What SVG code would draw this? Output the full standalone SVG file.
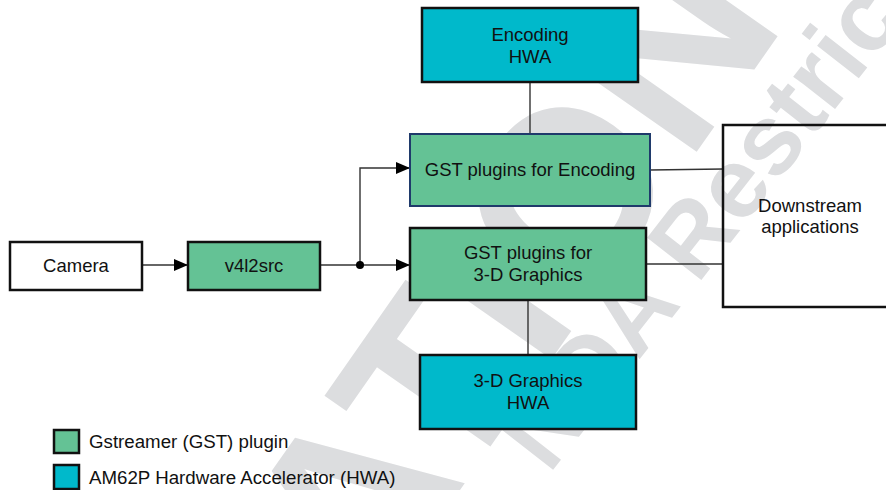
<svg xmlns="http://www.w3.org/2000/svg" width="886" height="490" viewBox="0 0 886 490">
  <style>
    .box { stroke: #111; stroke-width: 2.5; }
    .gst { fill: #64C295; }
    .hwa { fill: #00B9CB; }
    .plain { fill: #ffffff; }
    .open { fill: none; }
    .enc { fill: #64C295; stroke: #1F3A6B; stroke-width: 2; }
    .t { font-family: "Liberation Sans", Arial, sans-serif; font-size: 18.5px; fill: #111; text-anchor: middle; }
    .lg { font-family: "Liberation Sans", Arial, sans-serif; font-size: 18.7px; fill: #111; }
    .wire { fill: none; stroke: #333; stroke-width: 1.4; }
    .wm { font-family: "Liberation Sans", Arial, sans-serif; font-weight: bold; fill: #DCDDDF; }
  </style>
  <defs>
    <marker id="arrow" viewBox="0 0 14 12" refX="14" refY="6" markerWidth="14" markerHeight="12" markerUnits="userSpaceOnUse" orient="auto">
      <path d="M0,0 L14,6 L0,12 Z" fill="#000"/>
    </marker>
  </defs>
  <rect width="886" height="490" fill="#ffffff"/>

  <g id="watermark">
    <text class="wm" font-size="240" text-anchor="end" transform="translate(787,23) rotate(-55)">INFORMATION</text>
    <text class="wm" font-size="100" transform="translate(549,475) rotate(-52)">NDA Restrictions</text>
  </g>

  <g id="connectors">
    <line class="wire" x1="142" y1="265" x2="188" y2="265" marker-end="url(#arrow)"/>
    <line class="wire" x1="320" y1="265" x2="410" y2="265" marker-end="url(#arrow)"/>
    <polyline class="wire" points="360,265 360,168 410,168" marker-end="url(#arrow)"/>
    <circle cx="360" cy="265" r="4" fill="#000"/>
    <line class="wire" x1="530" y1="82" x2="530" y2="134"/>
    <line class="wire" x1="528" y1="300" x2="528" y2="355"/>
    <line class="wire" x1="650" y1="170" x2="723" y2="169"/>
    <line class="wire" x1="646" y1="264" x2="723" y2="264"/>
  </g>

  <g id="camera">
    <rect class="box plain" x="10" y="242" width="132" height="48"/>
    <text class="t" x="76" y="272">Camera</text>
  </g>
  <g id="v4l2src">
    <rect class="box gst" x="188" y="242" width="132" height="48"/>
    <text class="t" x="254" y="272">v4l2src</text>
  </g>
  <g id="gst-encoding">
    <rect class="enc" x="410" y="134" width="240" height="72"/>
    <text class="t" x="530" y="176">GST plugins for Encoding</text>
  </g>
  <g id="gst-3d">
    <rect class="box gst" x="410" y="228" width="236" height="72"/>
    <text class="t" x="528" y="259">GST plugins for</text>
    <text class="t" x="528" y="281">3-D Graphics</text>
  </g>
  <g id="encoding-hwa">
    <rect class="box hwa" x="422" y="8" width="216" height="74"/>
    <text class="t" x="530" y="41">Encoding</text>
    <text class="t" x="530" y="63">HWA</text>
  </g>
  <g id="graphics-hwa">
    <rect class="box hwa" x="420" y="355" width="216" height="74"/>
    <text class="t" x="528" y="387">3-D Graphics</text>
    <text class="t" x="528" y="409">HWA</text>
  </g>
  <g id="downstream">
    <rect class="box open" x="723" y="125" width="175" height="182"/>
    <text class="t" x="810" y="212">Downstream</text>
    <text class="t" x="810" y="233">applications</text>
  </g>

  <g id="legend">
    <rect class="box gst" x="54" y="430" width="25" height="23"/>
    <text class="lg" x="89" y="448">Gstreamer (GST) plugin</text>
    <rect class="box hwa" x="54" y="465" width="25" height="24"/>
    <text class="lg" x="89" y="484">AM62P Hardware Accelerator (HWA)</text>
  </g>
</svg>
